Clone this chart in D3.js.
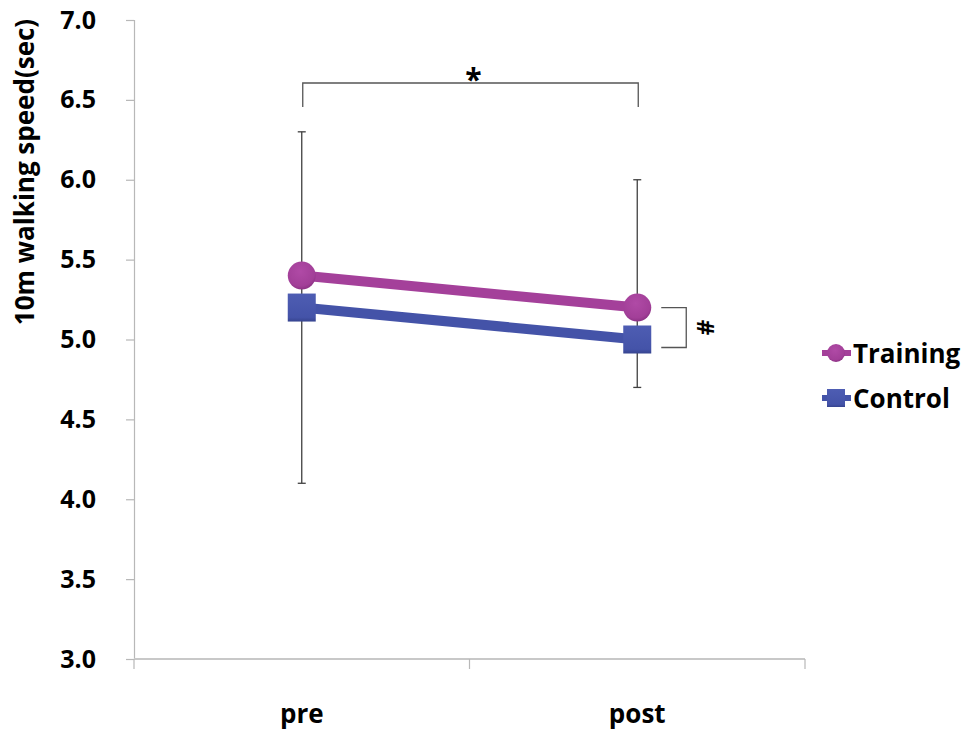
<!DOCTYPE html>
<html>
<head>
<meta charset="utf-8">
<script src="https://cdn.jsdelivr.net/npm/d3@7/dist/d3.min.js"></script>
<style>
  html, body { margin: 0; padding: 0; background: #fff; }
  svg { display: block; }
  text { font-family: "Open Sans", "Noto Sans", sans-serif; font-weight: bold; }
</style>
</head>
<body>
<svg id="chart" width="971" height="732"></svg>
<script>
// Data
const categories = ["pre", "post"];
const trainingMeans = [5.4, 5.2];
const controlMeans = [5.2, 5.0];
const trainingUpperSD = [0.9, 0.8];   // error bar drawn upward from Training
const controlLowerSD = [1.1, 0.3];    // error bar drawn downward from Control
const yTicks = [3.0, 3.5, 4.0, 4.5, 5.0, 5.5, 6.0, 6.5, 7.0];
const seriesNames = ["Training", "Control"];

const svg = d3.select("#chart");
const margin = { left: 134, right: 166, top: 20, bottom: 73 };

const x = d3.scaleBand().domain(categories).range([margin.left, 805]).paddingInner(0).paddingOuter(0);
const y = d3.scaleLinear().domain([3, 7]).range([659, margin.top]);
const cx = c => x(c) + x.bandwidth() / 2;

const axisColor = "#b8b8b8";
const tColor = "#a4409a";
const cColor = "#4453a8";

// Y axis
const yAxis = g => g.attr("transform", `translate(${margin.left},0)`)
  .call(d3.axisLeft(y).tickValues(yTicks).tickFormat(d3.format(".1f")).tickSizeOuter(0).tickSize(8))
  .call(g => g.select(".domain").attr("stroke", axisColor).attr("stroke-width", 1.2))
  .call(g => g.selectAll(".tick line").attr("stroke", axisColor).attr("stroke-width", 1.2))
  .call(g => g.selectAll(".tick text").attr("fill", "#000").attr("font-size", 25).attr("x", -38)
        .style("font-family", "'Open Sans', sans-serif").style("font-weight", "bold"));
svg.append("g").call(yAxis);

// X axis with boundary ticks between categories
const xg = svg.append("g").attr("transform", `translate(0,${y(3)})`);
xg.append("line").attr("x1", margin.left).attr("x2", 805).attr("y1", 0).attr("y2", 0)
  .attr("stroke", "#c8c8c8").attr("stroke-width", 2.2);
const boundaries = [x(categories[0]), x(categories[1]), x(categories[1]) + x.bandwidth()];
xg.selectAll("line.b").data(boundaries).join("line").attr("class", "b")
  .attr("x1", d => d).attr("x2", d => d).attr("y1", 0).attr("y2", 10)
  .attr("stroke", axisColor).attr("stroke-width", 1.2);
xg.selectAll("text").data(categories).join("text")
  .attr("x", d => cx(d)).attr("y", 64).attr("text-anchor", "middle")
  .attr("font-size", 26).attr("fill", "#000").text(d => d);

// Y axis title
svg.append("text")
  .attr("transform", `translate(34,172) rotate(-90)`)
  .attr("text-anchor", "middle").attr("font-size", 26).attr("fill", "#000")
  .text("10m walking speed(sec)");

// Error bars
const errG = svg.append("g").attr("stroke", "#404040").attr("stroke-width", 1.3);
categories.forEach((c, i) => {
  const top = trainingMeans[i] + trainingUpperSD[i];
  const bot = controlMeans[i] - controlLowerSD[i];
  errG.append("line").attr("x1", cx(c)).attr("x2", cx(c)).attr("y1", y(top)).attr("y2", y(bot));
  errG.append("line").attr("x1", cx(c) - 4).attr("x2", cx(c) + 4).attr("y1", y(top)).attr("y2", y(top));
  errG.append("line").attr("x1", cx(c) - 4).attr("x2", cx(c) + 4).attr("y1", y(bot)).attr("y2", y(bot));
});

// Gradients for markers
const defs = svg.append("defs");
const rg = defs.append("radialGradient").attr("id", "tGrad").attr("cx", "45%").attr("cy", "35%").attr("r", "65%");
rg.append("stop").attr("offset", "0%").attr("stop-color", "#b04aa6");
rg.append("stop").attr("offset", "80%").attr("stop-color", "#a23f98");
rg.append("stop").attr("offset", "100%").attr("stop-color", "#8d3285");
const lg = defs.append("linearGradient").attr("id", "cGrad").attr("x1", 0).attr("y1", 0).attr("x2", 0).attr("y2", 1);
lg.append("stop").attr("offset", "0%").attr("stop-color", "#4e5db3");
lg.append("stop").attr("offset", "85%").attr("stop-color", "#4453a8");
lg.append("stop").attr("offset", "100%").attr("stop-color", "#36448f");

const line = d3.line().x((d, i) => cx(categories[i])).y(d => y(d));

// Control line and markers
svg.append("path").datum(controlMeans).attr("d", line)
  .attr("fill", "none").attr("stroke", cColor).attr("stroke-width", 10);
svg.selectAll("rect.cm").data(controlMeans).join("rect").attr("class", "cm")
  .attr("x", (d, i) => cx(categories[i]) - 14).attr("y", d => y(d) - 14)
  .attr("width", 28).attr("height", 28).attr("fill", "url(#cGrad)");

// Training line and markers
svg.append("path").datum(trainingMeans).attr("d", line)
  .attr("fill", "none").attr("stroke", tColor).attr("stroke-width", 10);
svg.selectAll("circle.tm").data(trainingMeans).join("circle").attr("class", "tm")
  .attr("cx", (d, i) => cx(categories[i])).attr("cy", d => y(d)).attr("r", 14)
  .attr("fill", "url(#tGrad)");

// Significance bracket between pre and post
const br = svg.append("g").attr("stroke", "#555").attr("stroke-width", 1.3).attr("fill", "none");
br.append("path").attr("d", `M${cx("pre") + 1},107 V83 H${cx("post") + 1} V107`);
svg.append("text").attr("x", (cx("pre") + cx("post")) / 2 + 4).attr("y", 90)
  .attr("text-anchor", "middle").attr("font-size", 30).attr("fill", "#000").text("*");

// Bracket between groups at post
const px = cx("post");
br.append("path").attr("d", `M${px + 24},${y(trainingMeans[1])} H${px + 49} V${y(controlMeans[1]) + 8} H${px + 24}`);
svg.append("text")
  .attr("transform", `translate(${px + 60},${(y(trainingMeans[1]) + y(controlMeans[1]) + 8) / 2}) rotate(90)`)
  .attr("text-anchor", "middle").attr("font-size", 24).attr("fill", "#000").text("#");

// Legend
const legend = svg.append("g");
const legendY = [353, 398];
const colors = [tColor, cColor];
seriesNames.forEach((name, i) => {
  const ly = legendY[i];
  legend.append("line").attr("x1", 822).attr("x2", 851).attr("y1", ly).attr("y2", ly)
    .attr("stroke", colors[i]).attr("stroke-width", 6);
  if (i === 0) {
    legend.append("circle").attr("cx", 836).attr("cy", ly).attr("r", 9).attr("fill", "url(#tGrad)");
  } else {
    legend.append("rect").attr("x", 827).attr("y", ly - 9).attr("width", 18).attr("height", 18).attr("fill", "url(#cGrad)");
  }
  legend.append("text").attr("x", 853).attr("y", ly + 10).attr("font-size", 26).attr("fill", "#000").text(name);
});
</script>
</body>
</html>
